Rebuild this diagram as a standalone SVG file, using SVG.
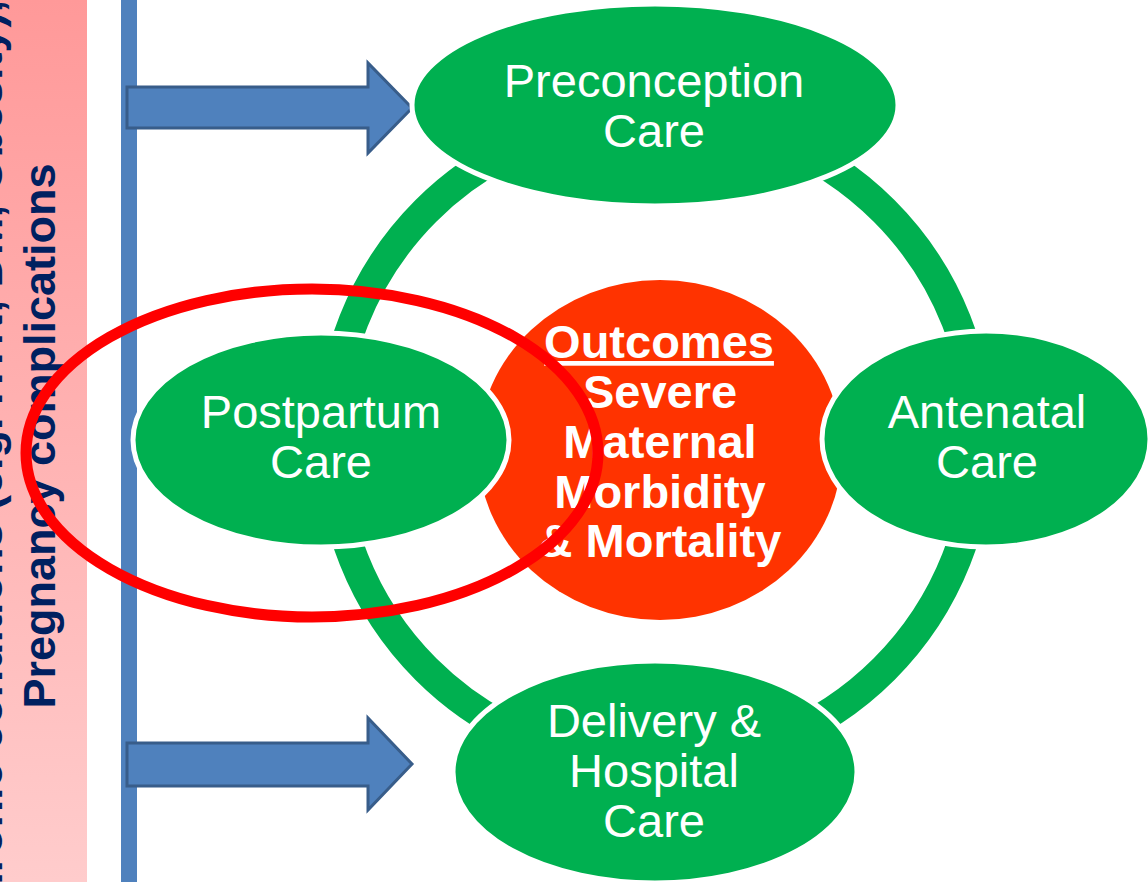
<svg xmlns="http://www.w3.org/2000/svg" width="1148" height="882" viewBox="0 0 1148 882">
  <defs>
    <linearGradient id="pinkFade" x1="0" y1="0" x2="0" y2="1">
      <stop offset="0" stop-color="#FF9999"/>
      <stop offset="1" stop-color="#FFCCCC"/>
    </linearGradient>
    <style>
      .stage { fill: #00B050; stroke: #FFFFFF; stroke-width: 5; }
      .stage-label { font-family: "Liberation Sans", Arial, sans-serif; font-size: 47px; fill: #FFFFFF; text-anchor: middle; }
      .outcome-label { font-family: "Liberation Sans", Arial, sans-serif; font-size: 47px; font-weight: bold; fill: #FFFFFF; text-anchor: middle; }
      .side-label { font-family: "Liberation Sans", Arial, sans-serif; font-size: 45px; font-weight: bold; fill: #002060; }
      .flow-arrow { fill: #4F81BD; stroke: #385D8A; stroke-width: 3; stroke-linejoin: miter; }
    </style>
  </defs>

  <rect width="1148" height="882" fill="#FFFFFF"/>

  <!-- left banner with rotated risk-factor text -->
  <g id="risk-banner">
    <rect x="0" y="0" width="87" height="882" fill="url(#pinkFade)"/>
    <text class="side-label" transform="translate(2,0) rotate(-90)" text-anchor="end">Chronic conditions (e.g. HTN, DM, Obesity),</text>
    <text class="side-label" transform="translate(55,436) rotate(-90)" text-anchor="middle">Pregnancy complications</text>
  </g>

  <!-- connectors: vertical feed bar, block arrows and the care cycle ring -->
  <g id="connectors">
    <rect x="121" y="0" width="16" height="882" fill="#4F81BD"/>
    <polygon class="flow-arrow" points="127,87 368,87 368,63 412,108 368,153 368,128 127,128"/>
    <polygon class="flow-arrow" points="127,743 368,743 368,718 412,764 368,810 368,786 127,786"/>
    <circle cx="655" cy="440" r="324" fill="none" stroke="#00B050" stroke-width="30"/>
  </g>

  <!-- central outcomes disc -->
  <g id="outcomes">
    <ellipse cx="660" cy="450" rx="182" ry="170" fill="#FF3300"/>
  </g>

  <g id="preconception">
    <ellipse class="stage" cx="655" cy="105" rx="243" ry="101"/>
    <text class="stage-label" x="654" y="97">Preconception</text>
    <text class="stage-label" x="654" y="147">Care</text>
  </g>

  <g id="antenatal">
    <ellipse class="stage" cx="986" cy="439" rx="164" ry="108"/>
    <text class="stage-label" x="987" y="428">Antenatal</text>
    <text class="stage-label" x="987" y="478">Care</text>
  </g>

  <g id="postpartum">
    <ellipse class="stage" cx="321" cy="440" rx="188" ry="107"/>
    <text class="stage-label" x="321" y="428">Postpartum</text>
    <text class="stage-label" x="321" y="478">Care</text>
  </g>

  <g id="delivery">
    <ellipse class="stage" cx="655" cy="772" rx="202" ry="111"/>
    <text class="stage-label" x="654" y="737">Delivery &amp;</text>
    <text class="stage-label" x="654" y="787">Hospital</text>
    <text class="stage-label" x="654" y="837">Care</text>
  </g>

  <g id="outcomes-text">
    <text class="outcome-label" x="659" y="358" text-decoration="underline">Outcomes</text>
    <text class="outcome-label" x="660" y="408">Severe</text>
    <text class="outcome-label" x="660" y="458">Maternal</text>
    <text class="outcome-label" x="660" y="508">Morbidity</text>
    <text class="outcome-label" x="660" y="557">&amp; Mortality</text>
  </g>

  <!-- highlight ring around postpartum care -->
  <g id="postpartum-highlight">
    <ellipse cx="312" cy="453" rx="286" ry="164" fill="none" stroke="#FF0000" stroke-width="11"/>
  </g>
</svg>
